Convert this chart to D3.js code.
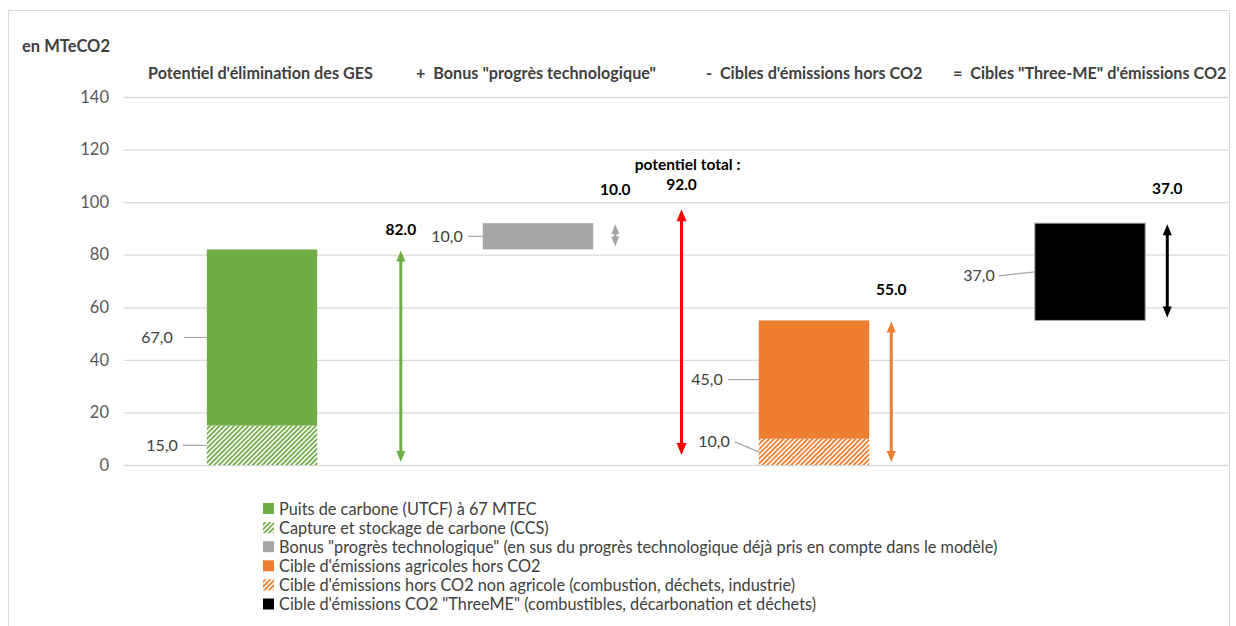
<!DOCTYPE html>
<html>
<head>
<meta charset="utf-8">
<script src="https://cdn.jsdelivr.net/npm/d3@7"></script>
<style>
  html, body { margin: 0; padding: 0; background: #fff; }
  svg { display: block; font-family: Lato, "Noto Sans", sans-serif; }
</style>
</head>
<body>
<svg id="chart" width="1236" height="626"></svg>
<script>
// Waterfall: removal potential + bonus - non-CO2 targets = CO2 target (MTeCO2)
const categories = ["potentiel", "bonus", "horsCO2", "threeME"];
const headers = [
  "Potentiel d'élimination des GES",
  "+  Bonus \"progrès technologique\"",
  "-  Cibles d'émissions hors CO2",
  "=  Cibles \"Three-ME\" d'émissions CO2"
];
// stacked segments: [category, start, end, series]
const segStart = [0, 15, 82, 0, 10, 55];
const segEnd = [15, 82, 92, 10, 55, 92];
const segCategory = ["potentiel", "potentiel", "bonus", "horsCO2", "horsCO2", "threeME"];
const segSeries = [1, 0, 2, 4, 3, 5];
const segLabels = ["15,0", "67,0", "10,0", "10,0", "45,0", "37,0"];
// totals shown by the double arrows
const arrowCategory = ["potentiel", "bonus", "total", "horsCO2", "threeME"];
const arrowFrom = [0, 82, 0, 0, 55];
const arrowTo = [82, 92, 92, 55, 92];
const arrowLabels = ["82.0", "10.0", "92.0", "55.0", "37.0"];
const seriesNames = [
  "Puits de carbone (UTCF) à 67 MTEC",
  "Capture et stockage de carbone (CCS)",
  "Bonus \"progrès technologique\" (en sus du progrès technologique déjà pris en compte dans le modèle)",
  "Cible d'émissions agricoles hors CO2",
  "Cible d'émissions hors CO2 non agricole (combustion, déchets, industrie)",
  "Cible d'émissions CO2 \"ThreeME\" (combustibles, décarbonation et déchets)"
];
const seriesColors = ["#70ad47", "#70ad47", "#a5a5a5", "#ed7d31", "#ed7d31", "#000000"];
const seriesHatched = [false, true, false, false, true, false];
const arrowColors = ["#70ad47", "#a5a5a5", "#ff0000", "#ed7d31", "#000000"];
const yTicks = [0, 20, 40, 60, 80, 100, 120, 140];

const svg = d3.select("#chart");
const plot = { left: 124, right: 1228, top: 97, bottom: 465 };
const textColor = "#404040";

// outer frame
svg.append("rect").attr("x", 8.5).attr("y", 10.5).attr("width", 1221).attr("height", 640)
  .attr("fill", "none").attr("stroke", "#d9d9d9");

const x = d3.scaleBand().domain(categories).range([plot.left, plot.right])
  .paddingInner(0.6).paddingOuter(0.3);
const y = d3.scaleLinear().domain([0, 140]).range([plot.bottom, plot.top]);
const step = x.step();
const cx = c => x(c) + x.bandwidth() / 2;

// hatch patterns
const defs = svg.append("defs");
["#70ad47", "#ed7d31"].forEach((col, i) => {
  const p = defs.append("pattern").attr("id", "hatch" + i)
    .attr("patternUnits", "userSpaceOnUse").attr("width", 3.4).attr("height", 3.4)
    .attr("patternTransform", "rotate(45)");
  p.append("rect").attr("width", 3.4).attr("height", 3.4).attr("fill", "#fff");
  p.append("rect").attr("width", 1.8).attr("height", 3.4).attr("fill", col);
});
const hatchId = { "#70ad47": "url(#hatch0)", "#ed7d31": "url(#hatch1)" };

// y axis with gridlines
const yAxis = d3.axisLeft(y).tickValues(yTicks).tickSize(-(plot.right - plot.left)).tickPadding(15);
const gy = svg.append("g").attr("transform", `translate(${plot.left},0)`).call(yAxis);
gy.select(".domain").remove();
gy.selectAll(".tick line").attr("stroke", "#d9d9d9").attr("stroke-width", 1.3);
gy.selectAll(".tick text").attr("fill", "#595959").attr("font-size", 16.5).attr("font-family", "Lato, sans-serif");

// unit label
svg.append("text").attr("x", 22).attr("y", 52).text("en MTeCO2")
  .attr("font-size", 16.5).attr("font-weight", "bold").attr("fill", textColor);

// column headers
const headerX = [148, 416, 706, 953];
headers.forEach((h, i) => {
  svg.append("text").attr("x", headerX[i]).attr("y", 79).text(h)
    .attr("font-size", 16.2).attr("font-weight", "bold").attr("fill", textColor)
    .attr("xml:space", "preserve");
});

// bars
segStart.forEach((s, i) => {
  const c = segCategory[i];
  const col = seriesColors[segSeries[i]];
  svg.append("rect")
    .attr("x", x(c)).attr("width", x.bandwidth())
    .attr("y", y(segEnd[i])).attr("height", y(s) - y(segEnd[i]))
    .attr("fill", seriesHatched[segSeries[i]] ? hatchId[col] : col)
    .attr("stroke", segSeries[i] === 5 ? "#a6a6a6" : "none").attr("stroke-width", 1);
});

// data labels with leader lines, at segment mid-height
const labelBend = [0, 0, 0, 10, 0, -4];
const leaderLen = [24, 23, 15, 24, 31, 36];
const leaderGap = [5, 11, 5, 5, 5, 4];
segStart.forEach((s, i) => {
  const c = segCategory[i];
  const ym = y((s + segEnd[i]) / 2);
  const x1 = x(c);
  const x0 = x1 - leaderLen[i];
  const ly = ym - labelBend[i];
  svg.append("path")
    .attr("d", `M${x0},${ly}L${x1},${ym}`)
    .attr("stroke", "#a6a6a6").attr("stroke-width", 1.2).attr("fill", "none");
  svg.append("text").attr("x", x0 - leaderGap[i]).attr("y", ly + 5.5).text(segLabels[i])
    .attr("text-anchor", "end").attr("font-size", 16).attr("fill", textColor);
});

// double arrows
function arrowX(k) {
  const c = arrowCategory[k];
  if (c === "potentiel") return cx(c) + step * 0.503;
  if (c === "total") return cx("bonus") + step * 0.52;
  return cx(c) + step * 0.28;
}
const arrowW = [3, 2.5, 3, 3, 3];
const arrowHead = [11, 10, 12, 11, 11];
const arrowHeadW = [9, 8, 10, 9, 9];
arrowFrom.forEach((a, k) => {
  const ax = arrowX(k);
  let yTop = y(arrowTo[k]) + 1, yBot = y(a) - 3;
  if (arrowCategory[k] === "total") { yTop = y(arrowTo[k]) - 14; yBot = y(a) - 10; }
  const h = arrowHead[k], w = arrowHeadW[k] / 2;
  const g = svg.append("g").attr("fill", arrowColors[k]);
  svg.append("line").attr("x1", ax).attr("x2", ax).attr("y1", yTop + h - 1).attr("y2", yBot - h + 1)
    .attr("stroke", arrowColors[k]).attr("stroke-width", arrowW[k]);
  g.append("path").attr("d", `M${ax},${yTop}L${ax - w},${yTop + h}L${ax + w},${yTop + h}Z`);
  g.append("path").attr("d", `M${ax},${yBot}L${ax - w},${yBot - h}L${ax + w},${yBot - h}Z`);
});

// arrow value labels
const arrowLabelDy = [-14, -28, -33, -25, -29];
arrowFrom.forEach((a, k) => {
  const ax = arrowX(k);
  svg.append("text").attr("x", ax).attr("y", y(arrowTo[k]) + arrowLabelDy[k]).text(arrowLabels[k])
    .attr("text-anchor", "middle").attr("font-size", 15.5).attr("font-weight", "bold").attr("fill", "#000");
});
svg.append("text").attr("x", arrowX(2) + 6).attr("y", y(92) - 53).text("potentiel total :")
  .attr("text-anchor", "middle").attr("font-size", 15.5).attr("font-weight", "bold").attr("fill", "#000");

// legend
const legend = svg.append("g").attr("transform", "translate(263,509)");
seriesNames.forEach((n, i) => {
  const g = legend.append("g").attr("transform", `translate(0,${i * 19.1})`);
  g.append("rect").attr("x", 0).attr("y", -6).attr("width", 11).attr("height", 11)
    .attr("fill", seriesHatched[i] ? hatchId[seriesColors[i]] : seriesColors[i]);
  g.append("text").attr("x", 16).attr("y", 5.5).text(n)
    .attr("font-size", 16.3).attr("fill", textColor);
});
</script>
</body>
</html>
